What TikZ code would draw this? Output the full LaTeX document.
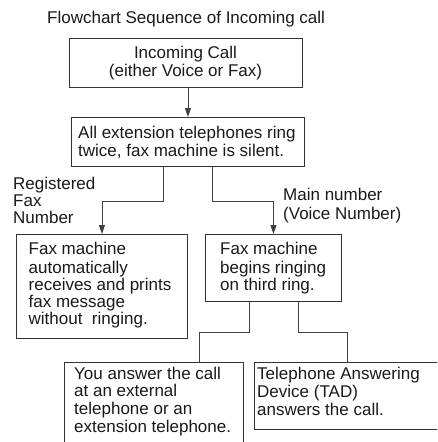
\documentclass[tikz,border=0pt]{standalone}
\usepackage{fontspec}
\setmainfont{Liberation Sans}
\usetikzlibrary{arrows.meta}
\tikzset{
  bx/.style={draw=black!80, line width=0.9pt, inner sep=0pt, anchor=north west},
  txt/.style={inner sep=0pt, align=left, anchor=north west, text=black!90},
  ln/.style={draw=black!75, line width=0.9pt},
  arr/.style={ln, -{Triangle[length=9pt,width=6pt]}}
}
\begin{document}
\begin{tikzpicture}[x=1pt,y=-1pt]
\useasboundingbox (0,0) rectangle (437,442);
\clip (0,0) rectangle (437,442);
% title
\node[inner sep=0pt, anchor=base west, text=black!90, font=\fontsize{17}{17}\selectfont] (title) at (47,23) {Flowchart Sequence of Incoming call};
% boxes
\node[bx, minimum width=233pt, minimum height=49pt] (b1) at (69,38) {};
\node[bx, minimum width=233pt, minimum height=49pt] (b2) at (71,117) {};
\node[bx, minimum width=171pt, minimum height=104pt] (b3) at (16,234) {};
\node[bx, minimum width=136pt, minimum height=67pt] (b4) at (205,234) {};
\node[bx, minimum width=179pt, minimum height=90pt] (b5) at (64,362) {};
\node[bx, minimum width=186pt, minimum height=67pt] (b6) at (254,362) {};
% texts
\node[txt, align=center, anchor=north, font=\fontsize{17}{18}\selectfont] (t1) at (185.5,45.4) {\strut Incoming Call\\(either Voice or Fax)};
\node[txt, font=\fontsize{17}{18.5}\selectfont] (t2) at (78,125.05) {\strut All extension telephones ring\\twice, fax machine is silent.};
\node[txt, font=\fontsize{17}{17}\selectfont] (t3) at (28.5,242.1) {\strut Fax machine\\automatically\\receives and prints\\fax message\\without\ \ ringing.};
\node[txt, font=\fontsize{17}{17}\selectfont] (t4) at (220,242.1) {\strut Fax machine\\begins ringing\\on third ring.};
\node[txt, font=\fontsize{17}{17}\selectfont] (l1) at (13,177.1) {\strut Registered\\Fax\\Number};
\node[txt, font=\fontsize{17}{17}\selectfont] (l2) at (283,188.1) {\strut Main number\\(Voice Number)};
\node[txt, font=\fontsize{17}{17.7}\selectfont] (t5) at (74,366.6) {\strut You answer the call\\at an external\\telephone or an\\extension telephone.};
\node[txt, font=\fontsize{17}{17.3}\selectfont] (t6) at (257,366.9) {\strut Telephone Answering\\Device (TAD)\\answers the call.};
% connectors
\draw[arr] (b1.south -| b2.north) -- (b2.north);
\draw[arr] ([xshift=-24.5pt]b2.south) -- ++(0,35) -| (b3.north);
\draw[arr] ([xshift=24.5pt]b2.south) -- ++(0,35) -| (b4.north);
\draw[ln] ([xshift=-24pt]b4.south) -- ++(0,31) -| ([xshift=45.5pt]b5.north);
\draw[ln] ([xshift=25pt]b4.south) -- ++(0,31) -| (b6.north);
\end{tikzpicture}
\end{document}
